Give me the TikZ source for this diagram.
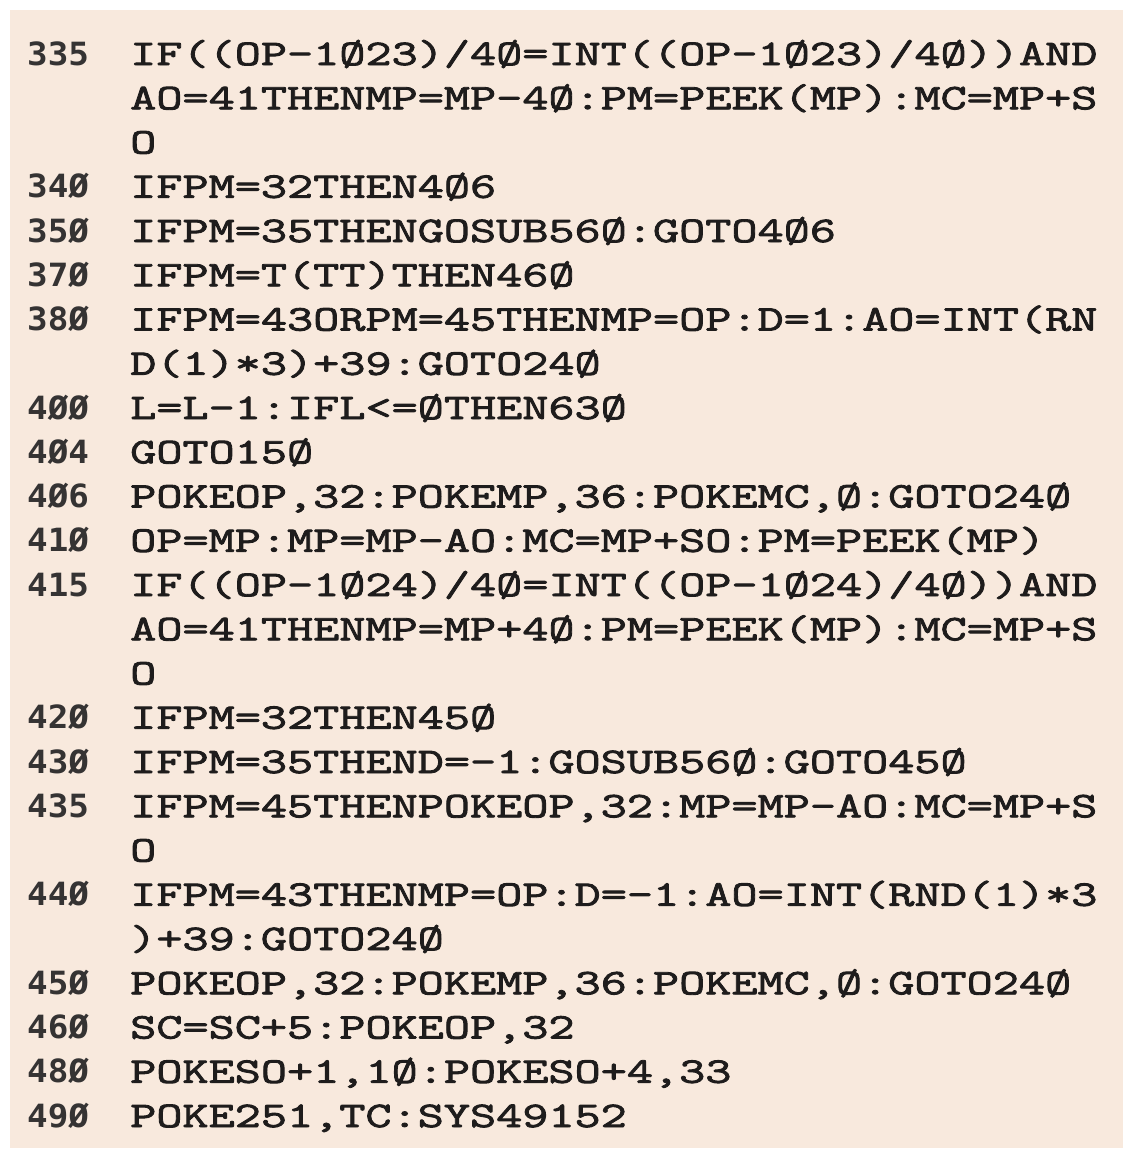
\documentclass[tikz,border=0pt]{standalone}
\usepackage{fontspec}
\newfontfamily\codefont[FakeStretch=1.41,FakeBold=2.4]{Latin Modern Mono}
\newfontfamily\numfont[FakeStretch=1.07]{DejaVu Sans Mono Bold}
\definecolor{paper}{HTML}{F8E9DD}
\definecolor{ink}{HTML}{1E1C1C}
\tikzset{
  codeline/.style={inner sep=0pt, anchor=base west, text=ink, font=\codefont\fontsize{36}{36}\selectfont},
  numline/.style={inner sep=0pt, anchor=base west, text=ink!90, font=\numfont\fontsize{32}{32}\selectfont},
}
\begin{document}
\begin{tikzpicture}[x=1pt,y=-1pt]
\useasboundingbox (0,0) rectangle (1134,1160);
\fill[white] (0,0) rectangle (1134,1160);
\fill[paper] (10,10) rectangle (1123,1148);
% line numbers
\node[numline] (n335) at (27,65) {335};
\node[numline] (n340) at (27,197.75) {34Ø};
\node[numline] (n350) at (27,242) {35Ø};
\node[numline] (n370) at (27,286.25) {37Ø};
\node[numline] (n380) at (27,330.5) {38Ø};
\node[numline] (n400) at (27,419) {4ØØ};
\node[numline] (n404) at (27,463.25) {4Ø4};
\node[numline] (n406) at (27,507.5) {4Ø6};
\node[numline] (n410) at (27,551.75) {41Ø};
\node[numline] (n415) at (27,596) {415};
\node[numline] (n420) at (27,728.75) {42Ø};
\node[numline] (n430) at (27,773) {43Ø};
\node[numline] (n435) at (27,817.25) {435};
\node[numline] (n440) at (27,905.75) {44Ø};
\node[numline] (n450) at (27,994.25) {45Ø};
\node[numline] (n460) at (27,1038.5) {46Ø};
\node[numline] (n480) at (27,1082.75) {48Ø};
\node[numline] (n490) at (27,1127) {49Ø};
% code
\node[codeline] (c0) at (130,65) {IF((OP-1Ø23)/4Ø=INT((OP-1Ø23)/4Ø))AND};
\node[codeline] (c1) at (130,109.25) {AO=41THENMP=MP-4Ø:PM=PEEK(MP):MC=MP+S};
\node[codeline] (c2) at (130,153.5) {O};
\node[codeline] (c3) at (130,197.75) {IFPM=32THEN4Ø6};
\node[codeline] (c4) at (130,242) {IFPM=35THENGOSUB56Ø:GOTO4Ø6};
\node[codeline] (c5) at (130,286.25) {IFPM=T(TT)THEN46Ø};
\node[codeline] (c6) at (130,330.5) {IFPM=43ORPM=45THENMP=OP:D=1:AO=INT(RN};
\node[codeline] (c7) at (130,374.75) {D(1)*3)+39:GOTO24Ø};
\node[codeline] (c8) at (130,419) {L=L-1:IFL<=ØTHEN63Ø};
\node[codeline] (c9) at (130,463.25) {GOTO15Ø};
\node[codeline] (c10) at (130,507.5) {POKEOP,32:POKEMP,36:POKEMC,Ø:GOTO24Ø};
\node[codeline] (c11) at (130,551.75) {OP=MP:MP=MP-AO:MC=MP+SO:PM=PEEK(MP)};
\node[codeline] (c12) at (130,596) {IF((OP-1Ø24)/4Ø=INT((OP-1Ø24)/4Ø))AND};
\node[codeline] (c13) at (130,640.25) {AO=41THENMP=MP+4Ø:PM=PEEK(MP):MC=MP+S};
\node[codeline] (c14) at (130,684.5) {O};
\node[codeline] (c15) at (130,728.75) {IFPM=32THEN45Ø};
\node[codeline] (c16) at (130,773) {IFPM=35THEND=-1:GOSUB56Ø:GOTO45Ø};
\node[codeline] (c17) at (130,817.25) {IFPM=45THENPOKEOP,32:MP=MP-AO:MC=MP+S};
\node[codeline] (c18) at (130,861.5) {O};
\node[codeline] (c19) at (130,905.75) {IFPM=43THENMP=OP:D=-1:AO=INT(RND(1)*3};
\node[codeline] (c20) at (130,950) {)+39:GOTO24Ø};
\node[codeline] (c21) at (130,994.25) {POKEOP,32:POKEMP,36:POKEMC,Ø:GOTO24Ø};
\node[codeline] (c22) at (130,1038.5) {SC=SC+5:POKEOP,32};
\node[codeline] (c23) at (130,1082.75) {POKESO+1,1Ø:POKESO+4,33};
\node[codeline] (c24) at (130,1127) {POKE251,TC:SYS49152};
\end{tikzpicture}
\end{document}
